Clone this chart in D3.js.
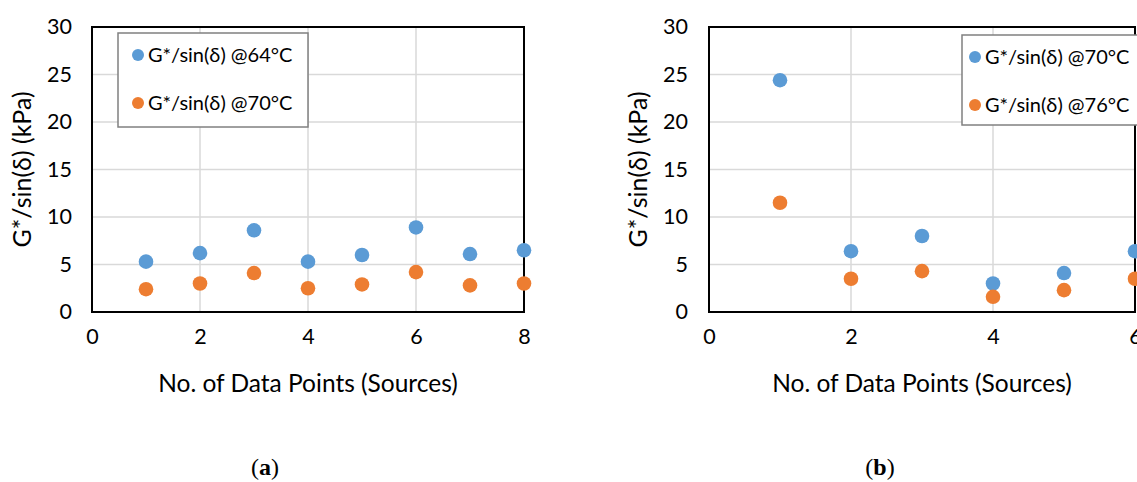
<!DOCTYPE html>
<html><head><meta charset="utf-8">
<script src="https://cdn.jsdelivr.net/npm/d3@7"></script>
<style>body{margin:0;background:#fff;} svg{display:block;}</style>
</head><body>
<svg id="c" width="1137" height="482"></svg>
<script>
// Panel (a)
const xA = [1, 2, 3, 4, 5, 6, 7, 8];
const blueA = [5.3, 6.2, 8.6, 5.3, 6.0, 8.9, 6.1, 6.5];
const orangeA = [2.4, 3.0, 4.1, 2.5, 2.9, 4.2, 2.8, 3.0];
const namesA = ["G*/sin(δ) @64°C", "G*/sin(δ) @70°C"];
const xTicksA = [0, 2, 4, 6, 8];
// Panel (b)
const xB = [1, 2, 3, 4, 5, 6];
const blueB = [24.4, 6.4, 8.0, 3.0, 4.1, 6.4];
const orangeB = [11.5, 3.5, 4.3, 1.6, 2.3, 3.5];
const namesB = ["G*/sin(δ) @70°C", "G*/sin(δ) @76°C"];
const xTicksB = [0, 2, 4, 6];
const yTicks = [0, 5, 10, 15, 20, 25, 30];
const xTitle = "No. of Data Points (Sources)";
const yTitle = "G*/sin(δ) (kPa)";
const colors = ["#5B9BD5", "#ED7D31"];

const svg = d3.select("#c");
const FONT = "Lato, 'Open Sans', sans-serif";

function panel(cfg) {
  const g = svg.append("g");
  const x = d3.scaleLinear().domain(cfg.xDomain).range([cfg.left, cfg.right]);
  const y = d3.scaleLinear().domain([0, 30]).range([cfg.bottom, cfg.top]);
  // grid
  g.selectAll(".hg").data(yTicks.filter(t => t > 0 && t < 30)).enter().append("line")
    .attr("x1", cfg.left).attr("x2", cfg.right).attr("y1", d => y(d)).attr("y2", d => y(d))
    .attr("stroke", "#d9d9d9").attr("stroke-width", 1.5);
  g.selectAll(".vg").data(cfg.xTicks.filter(t => t > cfg.xDomain[0] && t < cfg.xDomain[1])).enter().append("line")
    .attr("y1", cfg.top).attr("y2", cfg.bottom).attr("x1", d => x(d)).attr("x2", d => x(d))
    .attr("stroke", "#d9d9d9").attr("stroke-width", 1.5);
  // axes (tick labels via d3 axes)
  const ya = d3.axisLeft(y).tickValues(yTicks).tickFormat(d3.format("d")).tickSize(0).tickPadding(cfg.left - cfg.yLabelRight);
  const yg = g.append("g").attr("transform", `translate(${cfg.left},0)`).call(ya);
  yg.select(".domain").remove();
  yg.selectAll("text").attr("font-family", FONT).attr("font-size", 21.5).attr("fill", "#000");
  const xa = d3.axisBottom(x).tickValues(cfg.xTicks).tickFormat(d3.format("d")).tickSize(0).tickPadding(17);
  const xg = g.append("g").attr("transform", `translate(0,${cfg.bottom})`).call(xa);
  xg.select(".domain").remove();
  xg.selectAll("text").attr("font-family", FONT).attr("font-size", 21.5).attr("fill", "#000");
  // frame
  g.append("rect").attr("x", cfg.left).attr("y", cfg.top)
    .attr("width", cfg.right - cfg.left).attr("height", cfg.bottom - cfg.top)
    .attr("fill", "none").attr("stroke", "#000").attr("stroke-width", 2);
  // points
  [cfg.blue, cfg.orange].forEach((vals, si) => {
    g.selectAll(".p" + si).data(vals).enter().append("circle")
      .attr("cx", (d, i) => x(cfg.xs[i])).attr("cy", d => y(d)).attr("r", 7.3)
      .attr("fill", colors[si]);
  });
  // legend
  const L = cfg.legend;
  g.append("rect").attr("x", L.x).attr("y", L.y).attr("width", L.w).attr("height", L.h)
    .attr("fill", "#fff").attr("stroke", "#808080").attr("stroke-width", 1.5);
  cfg.names.forEach((n, i) => {
    const cy = L.y + 22 + i * 48;
    g.append("circle").attr("cx", L.x + L.dot).attr("cy", cy).attr("r", 6).attr("fill", colors[i]);
    g.append("text").attr("x", L.x + L.dot + 10).attr("y", cy).attr("dy", "0.35em")
      .attr("font-family", FONT).attr("font-size", 20).attr("fill", "#000").text(n);
  });
  // titles
  g.append("text").attr("x", (cfg.left + cfg.right) / 2).attr("y", 383).attr("dy", "0.35em")
    .attr("text-anchor", "middle").attr("font-family", FONT).attr("font-size", 24.5).attr("fill", "#000")
    .text(xTitle);
  g.append("text").attr("transform", `translate(${cfg.yTitleX},${(cfg.top + cfg.bottom) / 2}) rotate(-90)`)
    .attr("dy", "0.35em").attr("text-anchor", "middle").attr("font-family", FONT).attr("font-size", 25)
    .attr("fill", "#000").text(yTitle);
  // panel label
  const t = g.append("text").attr("x", cfg.labelX).attr("y", 467).attr("dy", "0.35em")
    .attr("text-anchor", "middle").attr("font-family", "'Liberation Serif', 'DejaVu Serif', serif")
    .attr("font-size", 24).attr("fill", "#000");
  t.append("tspan").text("(");
  t.append("tspan").attr("font-weight", "bold").text(cfg.label);
  t.append("tspan").text(")");
}

panel({xDomain: [0, 8], xs: xA, blue: blueA, orange: orangeA, names: namesA, xTicks: xTicksA,
  left: 92, right: 524, top: 27, bottom: 312, yLabelRight: 72, yTitleX: 22,
  legend: {x: 118, y: 33, w: 190, h: 94, dot: 20}, labelX: 265, label: "a"});
panel({xDomain: [0, 6], xs: xB, blue: blueB, orange: orangeB, names: namesB, xTicks: xTicksB,
  left: 709, right: 1135, top: 27, bottom: 312, yLabelRight: 688, yTitleX: 638,
  legend: {x: 962, y: 35, w: 180, h: 90, dot: 13}, labelX: 880, label: "b"});
</script>
</body></html>
